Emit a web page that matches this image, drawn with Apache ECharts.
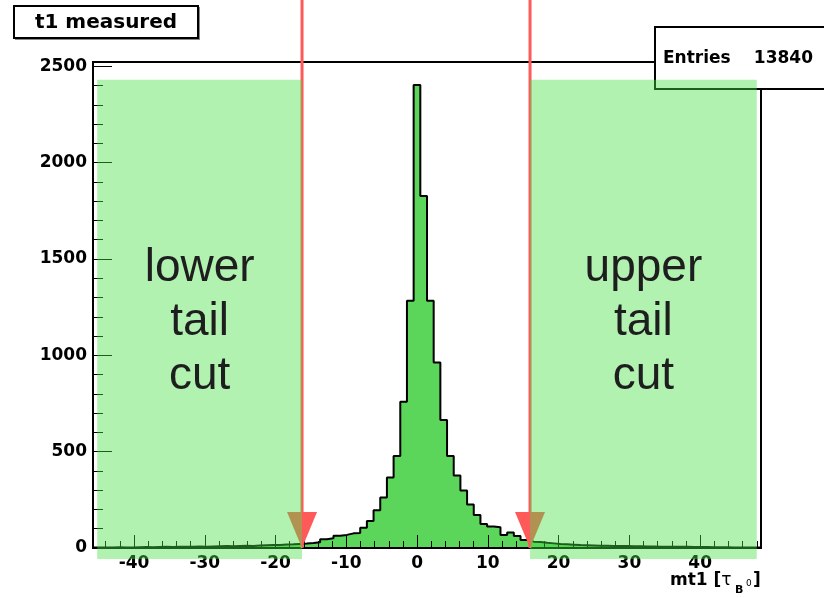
<!DOCTYPE html>
<html>
<head>
<meta charset="utf-8">
<script src="https://cdn.jsdelivr.net/npm/echarts@6/dist/echarts.min.js"></script>
<style>
html,body{margin:0;padding:0;background:#fff;}
#c{width:824px;height:598px;}
</style>
</head>
<body>
<div id="c"></div>
<script>
// ---------------- data ----------------
const binStart = -45.8;      // lower edge of first bin (mt1 units)
const binWidth = 0.944;      // bin width (mt1 units)
const counts = [
  2, 3, 2, 4, 3, 3, 4, 5, 4, 5,
  6, 5, 6, 7, 6, 8, 7, 8, 9, 10,
  9, 11, 12, 11, 13, 14, 15, 16, 18, 19,
  21, 23, 26, 30, 46, 50, 64, 68, 76, 78,
  105, 140, 196, 262, 366, 477, 759, 1283, 2402, 1826,
  1283, 962, 664, 477, 376, 299, 226, 171, 125, 112,
  108, 68, 80, 62, 42, 33, 31, 27, 24, 21,
  19, 17, 15, 14, 13, 12, 12, 11, 10, 10,
  9, 9, 8, 8, 7, 7, 6, 7, 6, 5,
  5, 5, 4, 4, 4, 3, 3, 3, 2, 2
];
const xRange = [-45.8, 48.6];
const yRange = [0, 2522];
const xTickLabels = [-40, -30, -20, -10, 0, 10, 20, 30, 40];
const yTickLabels = [0, 500, 1000, 1500, 2000, 2500];
const cuts = [-16.26, 15.96];
const shadeX = [[-45.2, -16.26], [15.96, 48.0]];
const shadeY = [-57, 2430];
const bandTexts = ['lower\ntail\ncut', 'upper\ntail\ncut'];
const titleText = 't1 measured';
const statsLabel = 'Entries';
const statsValue = '13840';

// ---------------- chart ----------------
const FONT = '"DejaVu Sans", sans-serif';
const chart = echarts.init(document.getElementById('c'), null, {renderer: 'canvas', width: 824, height: 598});

const histData = counts.map((c, k) => [binStart + k * binWidth, c]);
histData.push([binStart + counts.length * binWidth, counts[counts.length - 1]]);

const tickLine = {color: '#000', width: 1};
const labelStyle = {color: '#000', fontFamily: FONT, fontWeight: 'bold', fontSize: 17};

chart.setOption({
  animation: false,
  backgroundColor: '#fff',
  grid: {left: 93, right: 63, top: 62, bottom: 50, show: true, borderColor: '#000', borderWidth: 2,
         backgroundColor: 'transparent', containLabel: false, outerBoundsMode: 'none'},
  xAxis: [
    {type: 'value', min: xRange[0], max: xRange[1], splitNumber: 10, position: 'bottom', z: 5,
     axisLine: {show: true, onZero: false, lineStyle: {color: '#000', width: 2}},
     axisTick: {show: true, inside: true, length: 13, lineStyle: tickLine},
     axisLabel: Object.assign({show: true, margin: 7, showMinLabel: false, showMaxLabel: false,
       formatter: v => xTickLabels.includes(Math.round(v * 1000) / 1000) ? String(Math.round(v)) : ''}, labelStyle),
     splitLine: {show: false}},
    {type: 'value', min: xRange[0], max: xRange[1], splitNumber: 47, position: 'bottom', z: 5,
     axisLine: {show: false, onZero: false}, axisTick: {show: true, inside: true, length: 7, lineStyle: tickLine},
     axisLabel: {show: false}, splitLine: {show: false}}
  ],
  yAxis: [
    {type: 'value', min: yRange[0], max: yRange[1], interval: 500, position: 'left', z: 5,
     axisLine: {show: true, onZero: false, lineStyle: {color: '#000', width: 2}},
     axisTick: {show: true, inside: true, length: 19, lineStyle: tickLine},
     axisLabel: Object.assign({show: true, margin: 6, showMaxLabel: false,
       formatter: v => yTickLabels.includes(Math.round(v)) ? String(Math.round(v)) : ''}, labelStyle),
     splitLine: {show: false}},
    {type: 'value', min: yRange[0], max: yRange[1], interval: 100, position: 'left', z: 5,
     axisLine: {show: false, onZero: false}, axisTick: {show: true, inside: true, length: 10, lineStyle: tickLine},
     axisLabel: {show: false}, splitLine: {show: false}}
  ],
  series: [{
    type: 'line', xAxisIndex: 0, yAxisIndex: 0, data: histData, step: 'end', symbol: 'none',
    silent: true, z: 2,
    lineStyle: {color: '#000', width: 2},
    areaStyle: {color: '#5bd65b', opacity: 1}
  }]
});

const px = v => chart.convertToPixel({xAxisIndex: 0}, v);
const py = v => chart.convertToPixel({yAxisIndex: 0}, v);
const y0 = py(0);
const g = [];

cuts.forEach(c => {
  const x = px(c);
  g.push({type: 'line', z: 10, silent: true, shape: {x1: x, y1: 0, x2: x, y2: y0},
          style: {stroke: '#ff5a5a', lineWidth: 3}});
  g.push({type: 'polygon', z: 10, silent: true, shape: {points: [[x - 15, y0 - 36], [x + 15, y0 - 36], [x, y0]]},
          style: {fill: '#ff5a5a'}});
});

// stats box
g.push({type: 'rect', z: 20, silent: true, shape: {x: 655, y: 27, width: 200, height: 62},
        style: {fill: '#fff', stroke: '#000', lineWidth: 2}});
g.push({type: 'text', z: 21, silent: true, style: {text: statsLabel, x: 663, y: 59, align: 'left', verticalAlign: 'middle',
        fontFamily: FONT, fontWeight: 'bold', fontSize: 17, fill: '#000'}});
g.push({type: 'text', z: 21, silent: true, style: {text: statsValue, x: 813, y: 59, align: 'right', verticalAlign: 'middle',
        fontFamily: FONT, fontWeight: 'bold', fontSize: 17, fill: '#000'}});

// shaded cut regions + labels
shadeX.forEach(([a, b], i) => {
  const x1 = px(a), x2 = px(b), yt = py(shadeY[1]), yb = py(shadeY[0]);
  g.push({type: 'rect', z: 30, silent: true, shape: {x: x1, y: yt, width: x2 - x1, height: yb - yt},
          style: {fill: 'rgba(69,224,69,0.42)'}});
  g.push({type: 'text', z: 40, silent: true, style: {text: bandTexts[i], x: (x1 + x2) / 2, y: 322,
          align: 'center', verticalAlign: 'middle', fontFamily: '"Liberation Sans", Arial, sans-serif',
          fontSize: 46, lineHeight: 54, fill: '#1e1e1e'}});
});

// title box
g.push({type: 'rect', z: 40, silent: true, shape: {x: 15, y: 7, width: 185, height: 33}, style: {fill: '#888'}});
g.push({type: 'rect', z: 41, silent: true, shape: {x: 14, y: 6, width: 184, height: 32},
        style: {fill: '#fff', stroke: '#000', lineWidth: 2}});
g.push({type: 'text', z: 42, silent: true, style: {text: titleText, x: 106, y: 23, align: 'center', verticalAlign: 'middle',
        fontFamily: FONT, fontWeight: 'bold', fontSize: 20, fill: '#000'}});

// axis title mt1 [tau_B0]
g.push({type: 'text', z: 40, silent: true, style: {
  text: '{a|mt1 [}{t|τ}', x: 670, y: 581, align: 'left', verticalAlign: 'middle',
  rich: {a: {fontFamily: FONT, fontWeight: 'bold', fontSize: 17, fill: '#000'},
         t: {fontFamily: FONT, fontSize: 17, fill: '#000'}}}});
g.push({type: 'text', z: 40, silent: true, style: {text: 'B', x: 735, y: 590, align: 'left', verticalAlign: 'middle',
        fontFamily: FONT, fontWeight: 'bold', fontSize: 11, fill: '#000'}});
g.push({type: 'text', z: 40, silent: true, style: {text: '0', x: 746, y: 584, align: 'left', verticalAlign: 'middle',
        fontFamily: FONT, fontSize: 9, fill: '#000'}});
g.push({type: 'text', z: 40, silent: true, style: {text: ']', x: 753, y: 581, align: 'left', verticalAlign: 'middle',
        fontFamily: FONT, fontWeight: 'bold', fontSize: 17, fill: '#000'}});

chart.setOption({graphic: g});
</script>
</body>
</html>
